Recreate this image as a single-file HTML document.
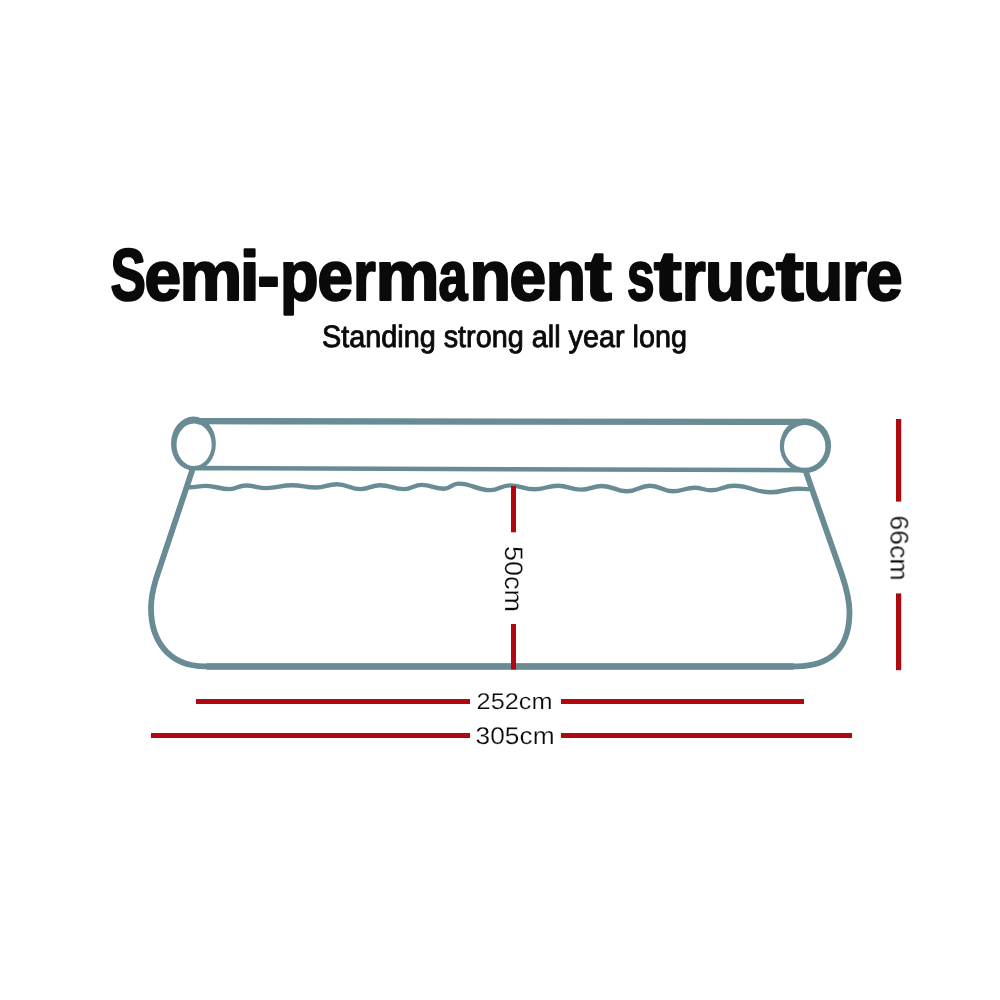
<!DOCTYPE html>
<html><head><meta charset="utf-8"><title>Semi-permanent structure</title>
<style>
html,body{margin:0;padding:0;background:#fff;}
body{width:1000px;height:1000px;overflow:hidden;position:relative;font-family:"Liberation Sans",sans-serif;}
svg{position:absolute;left:0;top:0;display:block;text-rendering:geometricPrecision}
text{font-family:"Liberation Sans",sans-serif;fill:#0a0a0a}
.t{filter:grayscale(1)}
</style></head><body>
<svg width="1000" height="1000" viewBox="0 0 1000 1000">
<rect width="1000" height="1000" fill="#ffffff"/>
<g class="t">
<!-- headline -->
<text id="title" y="299.5" font-size="70" font-weight="bold" stroke="#0a0a0a" stroke-width="2.2" stroke-linejoin="round"><tspan x="110.6" textLength="35.4" lengthAdjust="spacingAndGlyphs" font-size="73.4">S</tspan><tspan x="144.5" textLength="36.6" lengthAdjust="spacingAndGlyphs">e</tspan><tspan x="179.4" textLength="62.8" lengthAdjust="spacingAndGlyphs">m</tspan><tspan x="239.7" textLength="19.8" lengthAdjust="spacingAndGlyphs">i</tspan><tspan x="257.5" textLength="22.0" lengthAdjust="spacingAndGlyphs">-</tspan><tspan x="279.9" textLength="38.5" lengthAdjust="spacingAndGlyphs">p</tspan><tspan x="317.6" textLength="35.5" lengthAdjust="spacingAndGlyphs">e</tspan><tspan x="353.3" textLength="22.5" lengthAdjust="spacingAndGlyphs">r</tspan><tspan x="375.4" textLength="64.0" lengthAdjust="spacingAndGlyphs">m</tspan><tspan x="438.6" textLength="29.0" lengthAdjust="spacingAndGlyphs">a</tspan><tspan x="469.6" textLength="41.5" lengthAdjust="spacingAndGlyphs">n</tspan><tspan x="509.5" textLength="36.6" lengthAdjust="spacingAndGlyphs">e</tspan><tspan x="545.8" textLength="40.2" lengthAdjust="spacingAndGlyphs">n</tspan><tspan x="585.1" textLength="26.8" lengthAdjust="spacingAndGlyphs">t</tspan><tspan x="611.9"> </tspan><tspan x="627.0" textLength="27.5" lengthAdjust="spacingAndGlyphs">s</tspan><tspan x="654.1" textLength="27.8" lengthAdjust="spacingAndGlyphs">t</tspan><tspan x="682.1" textLength="23.7" lengthAdjust="spacingAndGlyphs">r</tspan><tspan x="705.0" textLength="40.2" lengthAdjust="spacingAndGlyphs">u</tspan><tspan x="745.0" textLength="30.6" lengthAdjust="spacingAndGlyphs">c</tspan><tspan x="776.1" textLength="27.8" lengthAdjust="spacingAndGlyphs">t</tspan><tspan x="803.0" textLength="40.2" lengthAdjust="spacingAndGlyphs">u</tspan><tspan x="841.9" textLength="25.0" lengthAdjust="spacingAndGlyphs">r</tspan><tspan x="866.0" textLength="36.6" lengthAdjust="spacingAndGlyphs">e</tspan></text>
<text id="sub" x="322" y="347.3" font-size="30.9" stroke="#0a0a0a" stroke-width="0.9" stroke-linejoin="round" textLength="365" lengthAdjust="spacingAndGlyphs">Standing strong all year long</text>

</g>
<!-- pool -->
<g fill="none" stroke="#688b94" stroke-linecap="round" stroke-linejoin="round">
  <path d="M199,421.2 L805,421.9" stroke-width="6.3"/>
  <path d="M196,468.1 L803,470.2" stroke-width="4.6"/>
  <path d="M192,471 L156,579 C153,589 151,598 151,608 C151,640 168,666.4 205,666.4 L796,666.3 C838,666.3 849.5,640 849.5,612 C849.5,599 846,587 842,575 L806,472" stroke-width="5.8"/>
  <path d="M208,666.4 L792,666.4" stroke-width="6.5"/>
  <path d="M189.6,486.8 C196.8,486.8 198.4,485.4 205.6,485.4 C216.4,485.4 218.8,488.6 229.6,488.6 C236.8,488.6 238.4,485.0 245.6,485.0 C255.0,485.0 257.0,487.6 266.4,487.6 C277.9,487.6 280.5,484.7 292.0,484.7 C302.8,484.7 305.2,487.0 316.0,487.0 C325.4,487.0 327.4,483.8 336.8,483.8 C347.6,483.8 350.0,488.6 360.8,488.6 C369.4,488.6 371.4,484.7 380.0,484.7 C390.8,484.7 393.2,488.6 404.0,488.6 C411.9,488.6 413.7,484.4 421.6,484.4 C431.7,484.4 433.9,488.2 444.0,488.2 C450.5,488.2 451.9,483.1 458.4,483.1 C472.7,483.1 475.9,489.6 490.2,489.6 C499.0,489.6 501.0,484.9 509.8,484.9 C521.0,484.9 523.4,488.8 534.6,488.8 C545.0,488.8 547.3,485.2 557.7,485.2 C568.1,485.2 570.4,489.1 580.8,489.1 C590.3,489.1 592.5,485.5 602.0,485.5 C613.2,485.5 615.8,490.8 627.0,490.8 C637.4,490.8 639.6,485.2 650.0,485.2 C660.4,485.2 662.6,490.8 673.0,490.8 C682.7,490.8 684.9,487.2 694.6,487.2 C702.0,487.2 703.6,489.8 711.0,489.8 C721.4,489.8 723.6,485.2 734.0,485.2 C750.4,485.2 754.1,491.8 770.5,491.8 C782.4,491.8 785.1,488.2 797.0,488.2 C802.9,488.2 804.1,488.6 810.0,488.6" stroke-width="4.4" transform="translate(0,0.5)"/>
</g>

<g fill="#688b94" fill-rule="evenodd" stroke="none">
  <path d="M171,443.6 a22.45,27 0 1,0 44.9,0 a22.45,27 0 1,0 -44.9,0 Z M176.5,444.7 a17.6,21.3 0 1,0 35.2,0 a17.6,21.3 0 1,0 -35.2,0 Z"/>
  <path d="M779.8,445.8 a25.65,27.2 0 1,0 51.3,0 a25.65,27.2 0 1,0 -51.3,0 Z M784,446.4 a20.7,21.4 0 1,0 41.4,0 a20.7,21.4 0 1,0 -41.4,0 Z"/>
</g>
<!-- red dimension lines -->
<g fill="#b0080f">
  <rect x="511" y="486" width="5" height="46.3"/>
  <rect x="511" y="624" width="5" height="45.5"/>
  <rect x="896" y="419" width="5.2" height="82.6"/>
  <rect x="896" y="593.4" width="5.2" height="76.8"/>
  <rect x="196" y="699" width="274" height="5"/>
  <rect x="561" y="699" width="243" height="5"/>
  <rect x="151" y="733" width="319" height="5"/>
  <rect x="561" y="733" width="291" height="5"/>
</g>

<!-- labels -->
<g class="t" stroke="#ffffff" stroke-width="0.22">
<text x="476.6" y="708.8" font-size="22.8" textLength="76" lengthAdjust="spacingAndGlyphs">252cm</text>
<text x="475.6" y="743.8" font-size="24.2" textLength="79" lengthAdjust="spacingAndGlyphs">305cm</text>
<text transform="translate(504.6,546) rotate(90)" font-size="25.4" textLength="66" lengthAdjust="spacingAndGlyphs">50cm</text>
<text transform="translate(890.6,515.4) rotate(90)" font-size="25.4" textLength="65.2" lengthAdjust="spacingAndGlyphs">66cm</text>
</g>
</svg>
</body></html>
